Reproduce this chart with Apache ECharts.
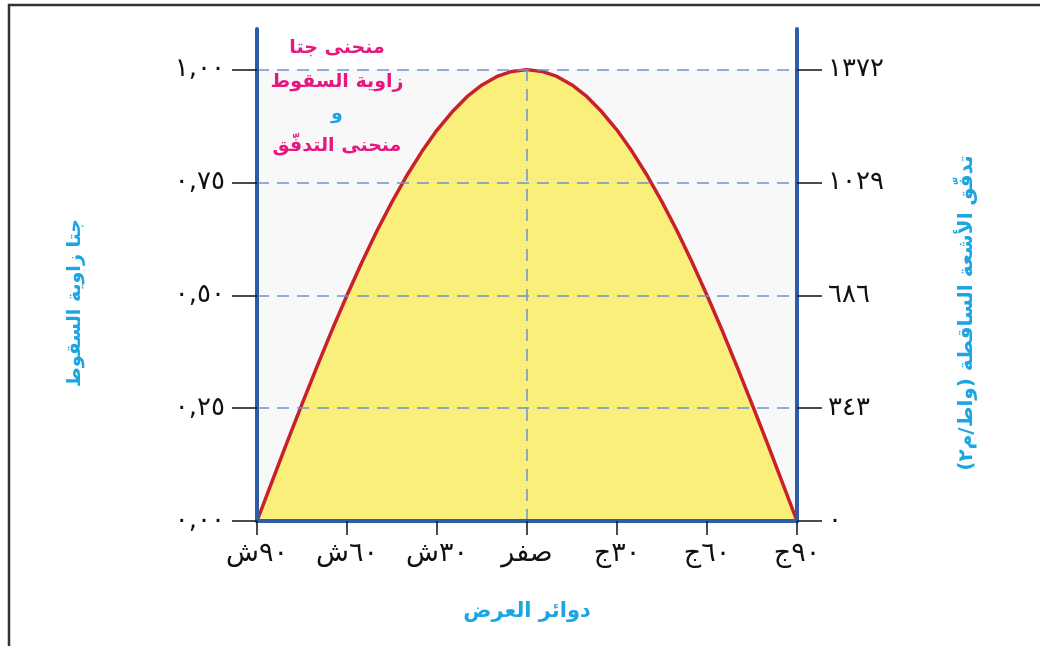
<!DOCTYPE html>
<html>
<head>
<meta charset="utf-8">
<script src="https://cdn.jsdelivr.net/npm/echarts@6/dist/echarts.min.js"></script>
<style>
html,body{margin:0;padding:0;background:#fff;}
#chart{width:1040px;height:646px;}
</style>
</head>
<body>
<div id="chart"></div>
<script>
// ---- data ----
var latitudes = [-90,-85,-80,-75,-70,-65,-60,-55,-50,-45,-40,-35,-30,-25,-20,-15,-10,-5,0,5,10,15,20,25,30,35,40,45,50,55,60,65,70,75,80,85,90];
var cosValues = [0,0.087,0.174,0.259,0.342,0.423,0.500,0.574,0.643,0.707,0.766,0.819,0.866,0.906,0.940,0.966,0.985,0.996,1.000,0.996,0.985,0.966,0.940,0.906,0.866,0.819,0.766,0.707,0.643,0.574,0.500,0.423,0.342,0.259,0.174,0.087,0];
var xTickLabels = ['٩٠ش','٦٠ش','٣٠ش','صفر','٣٠ج','٦٠ج','٩٠ج'];
var leftTickValues = [0,0.25,0.5,0.75,1];
var leftTickLabels = ['٠,٠٠','٠,٢٥','٠,٥٠','٠,٧٥','١,٠٠'];
var rightTickValues = [0,343,686,1029,1372];
var rightTickLabels = ['٠','٣٤٣','٦٨٦','١٠٢٩','١٣٧٢'];
var xName = 'دوائر العرض';
var leftName = 'جتا زاوية السقوط';
var rightName = 'تدفّق الأشعة الساقطة (واط/م٢)';
var titleLines = ['منحنى جتا','زاوية السقوط','و','منحنى التدفّق'];

var FONT = 'DejaVu Sans';
var BLUE = '#2d5ca9';
var CYAN = '#1ba6e3';
var PINK = '#e6177f';
var DASH = '#6f93cf';
var yTop = 1.09;

var curveData = latitudes.map(function(d,i){return [d,cosValues[i]];});

var chart = echarts.init(document.getElementById('chart'), null, {renderer:'canvas'});
chart.setOption({
  animation:false,
  backgroundColor:'#ffffff',
  grid:{left:257,right:243,top:29,bottom:125},
  xAxis:{
    type:'value',min:-90,max:90,interval:30,z:10,
    axisLine:{show:true,onZero:false,lineStyle:{color:BLUE,width:4}},
    axisTick:{show:true,length:14,lineStyle:{color:'#111',width:1.5}},
    axisLabel:{margin:19,fontSize:27,color:'#111',fontFamily:FONT,
      formatter:function(v){return xTickLabels[Math.round((v+90)/30)];}},
    splitLine:{show:false},
    name:xName,nameLocation:'middle',nameGap:80,
    nameTextStyle:{color:CYAN,fontSize:21,fontWeight:'bold',fontFamily:FONT}
  },
  yAxis:[{
    type:'value',min:0,max:yTop,interval:0.25,position:'left',z:10,
    axisLine:{show:true,onZero:false,lineStyle:{color:BLUE,width:4}},
    axisTick:{show:true,length:25,customValues:leftTickValues,lineStyle:{color:'#111',width:1.5}},
    axisLabel:{margin:32,fontSize:26,color:'#111',fontFamily:FONT,customValues:leftTickValues,
      formatter:function(v){var i=leftTickValues.indexOf(Math.round(v*100)/100);return i<0?'':leftTickLabels[i];}},
    splitLine:{show:false},
    name:leftName,nameLocation:'middle',nameRotate:90,nameGap:172,
    nameTextStyle:{color:CYAN,fontSize:19,fontWeight:'bold',fontFamily:FONT,padding:[0,56,0,0]}
  },{
    type:'value',min:0,max:1372*yTop,interval:343,position:'right',z:10,
    axisLine:{show:true,onZero:false,lineStyle:{color:BLUE,width:4}},
    axisTick:{show:true,length:25,customValues:rightTickValues,lineStyle:{color:'#111',width:1.5}},
    axisLabel:{margin:31,fontSize:26,color:'#111',fontFamily:FONT,customValues:rightTickValues,
      formatter:function(v){var i=rightTickValues.indexOf(Math.round(v));return i<0?'':rightTickLabels[i];}},
    splitLine:{show:false},
    name:rightName,nameLocation:'middle',nameRotate:90,nameGap:160,
    nameTextStyle:{color:CYAN,fontSize:20,fontWeight:'bold',fontFamily:FONT,padding:[0,76,0,0]}
  }],
  series:[{
    type:'line',z:1,data:[],silent:true,
    markArea:{silent:true,itemStyle:{color:'#f8f8f8'},label:{show:false},
      data:[[{xAxis:-90,yAxis:0},{xAxis:90,yAxis:1}]]},
    markLine:{silent:true,symbol:'none',label:{show:false},
      lineStyle:{color:DASH,type:[12,8],width:1.5},
      data:leftTickValues.slice(1).map(function(v){return {yAxis:v};})}
  },{
    type:'line',z:2,data:curveData,smooth:false,showSymbol:false,symbol:'none',silent:true,
    lineStyle:{color:'#c8212b',width:3.5,join:'round'},
    areaStyle:{color:'#f9ef7a',opacity:1}
  },{
    type:'line',z:3,data:[],silent:true,
    markLine:{silent:true,symbol:'none',label:{show:false},
      lineStyle:{color:DASH,type:[12,8],width:1.5},
      data:[[{coord:[0,0]},{coord:[0,1]}]]}
  }],
  graphic:[{
    type:'rect',silent:true,z:100,
    shape:{x:9,y:5,width:1200,height:800},
    style:{fill:null,stroke:'#333',lineWidth:2.5}
  },{
    type:'text',silent:true,z:100,x:337,y:31,
    style:{
      text:'{a|'+titleLines[0]+'}\n{a|'+titleLines[1]+'}\n{b|'+titleLines[2]+'}\n{a|'+titleLines[3]+'}',
      align:'center',verticalAlign:'top',
      rich:{
        a:{fontFamily:FONT,fontWeight:'bold',fontSize:19,fill:PINK,lineHeight:34,align:'center'},
        b:{fontFamily:FONT,fontWeight:'bold',fontSize:19,fill:CYAN,lineHeight:30,align:'center'}
      }
    }
  }]
});
</script>
</body>
</html>
